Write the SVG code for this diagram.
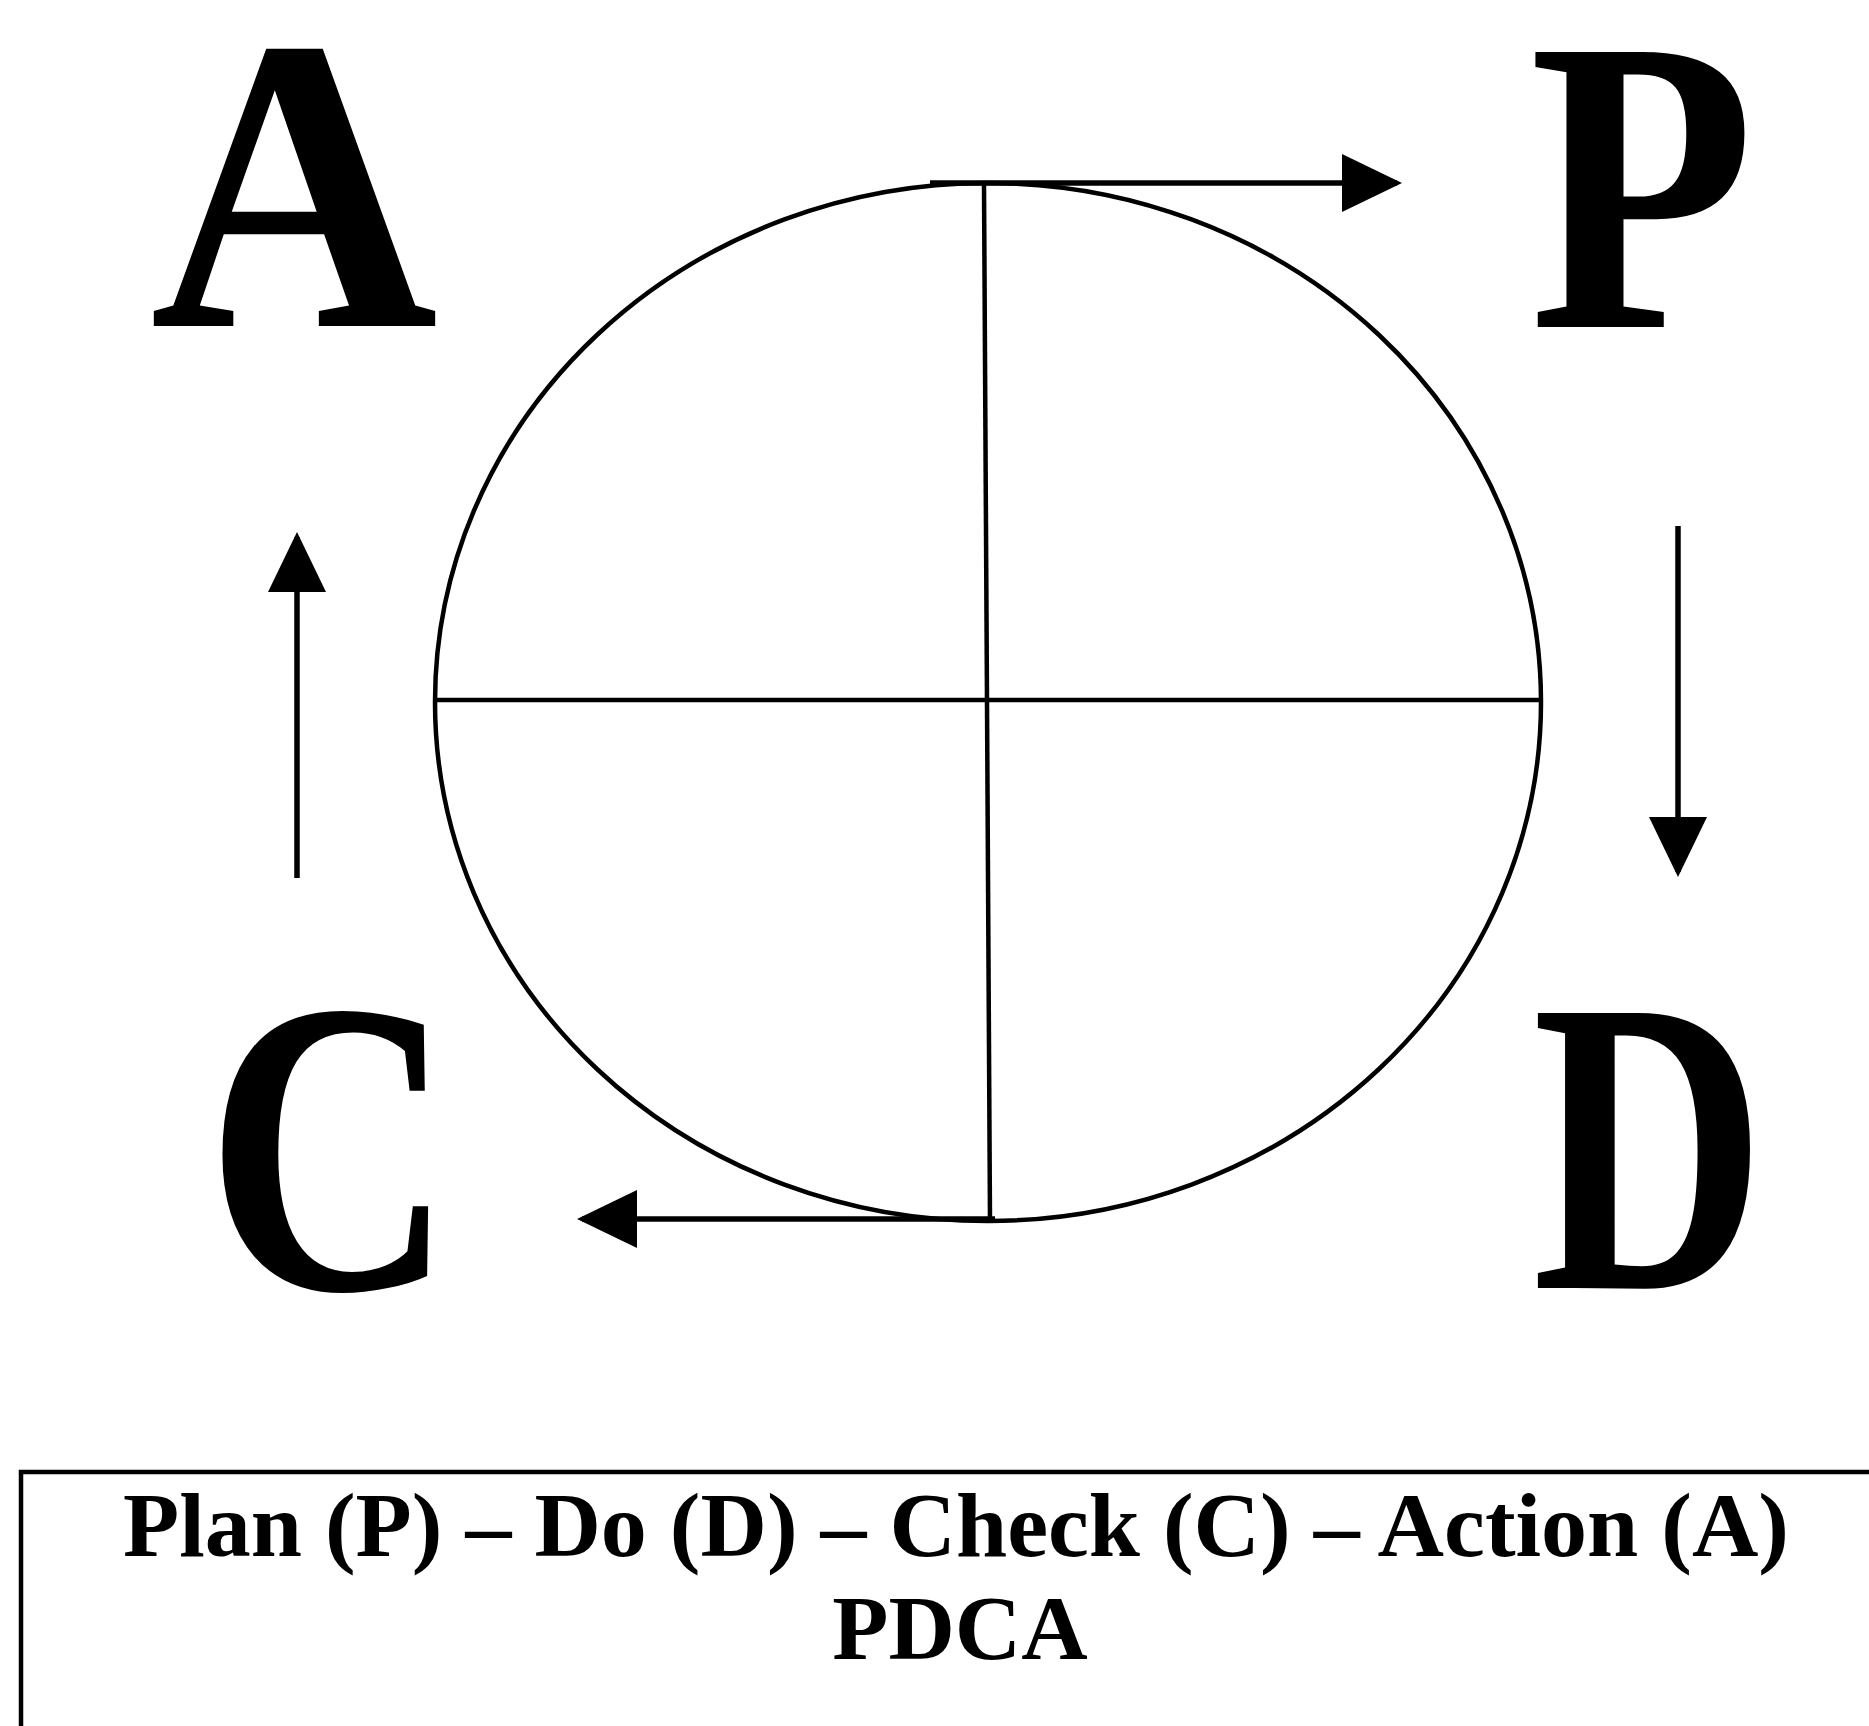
<svg xmlns="http://www.w3.org/2000/svg" width="1869" height="1726" viewBox="0 0 1869 1726">
<style>
.letter{font-family:"Liberation Serif","Times New Roman",serif;font-weight:bold;font-size:420px;fill:#000;text-anchor:middle}
.cap{font-family:"Liberation Serif","Times New Roman",serif;font-weight:bold;font-size:92px;fill:#000;text-anchor:middle}
.shape{fill:none;stroke:#000;stroke-width:4.5}
.conn{fill:none;stroke:#000;stroke-width:5.5}
</style>
<defs>
<marker id="head" markerUnits="userSpaceOnUse" markerWidth="60" markerHeight="58" refX="55" refY="29" orient="auto">
<path d="M0,0 L60,29 L0,58 Z" fill="#000"/>
</marker>
</defs>
<rect width="1869" height="1726" fill="#fff"/>
<g id="cycle">
<ellipse class="shape" cx="988" cy="702" rx="553" ry="519"/>
<line class="shape" x1="435" y1="700" x2="1541" y2="700"/>
<line class="shape" x1="984" y1="184" x2="990" y2="1221"/>
</g>
<g id="node-A"><text class="letter" transform="translate(294,326) scale(0.95,1)">A</text></g>
<g id="node-P"><text class="letter" transform="translate(1642,327) scale(0.88,1)">P</text></g>
<g id="node-D"><text class="letter" transform="translate(1649,1288) scale(0.77,1)">D</text></g>
<g id="node-C"><text class="letter" transform="translate(330,1289) scale(0.82,1)">C</text></g>
<g id="connectors">
<line class="conn" x1="930" y1="183" x2="1397" y2="183" marker-end="url(#head)"/>
<line class="conn" x1="1678" y1="526" x2="1678" y2="872" marker-end="url(#head)"/>
<line class="conn" x1="995" y1="1219" x2="582" y2="1219" marker-end="url(#head)"/>
<line class="conn" x1="297" y1="878" x2="297" y2="537" marker-end="url(#head)"/>
</g>
<g id="caption">
<rect x="21" y="1472" width="1900" height="400" fill="none" stroke="#000" stroke-width="4.5"/>
<text class="cap" x="956" y="1556">Plan (P) – Do (D) – Check (C) – Action (A)</text>
<text class="cap" x="960" y="1659">PDCA</text>
</g>
</svg>
